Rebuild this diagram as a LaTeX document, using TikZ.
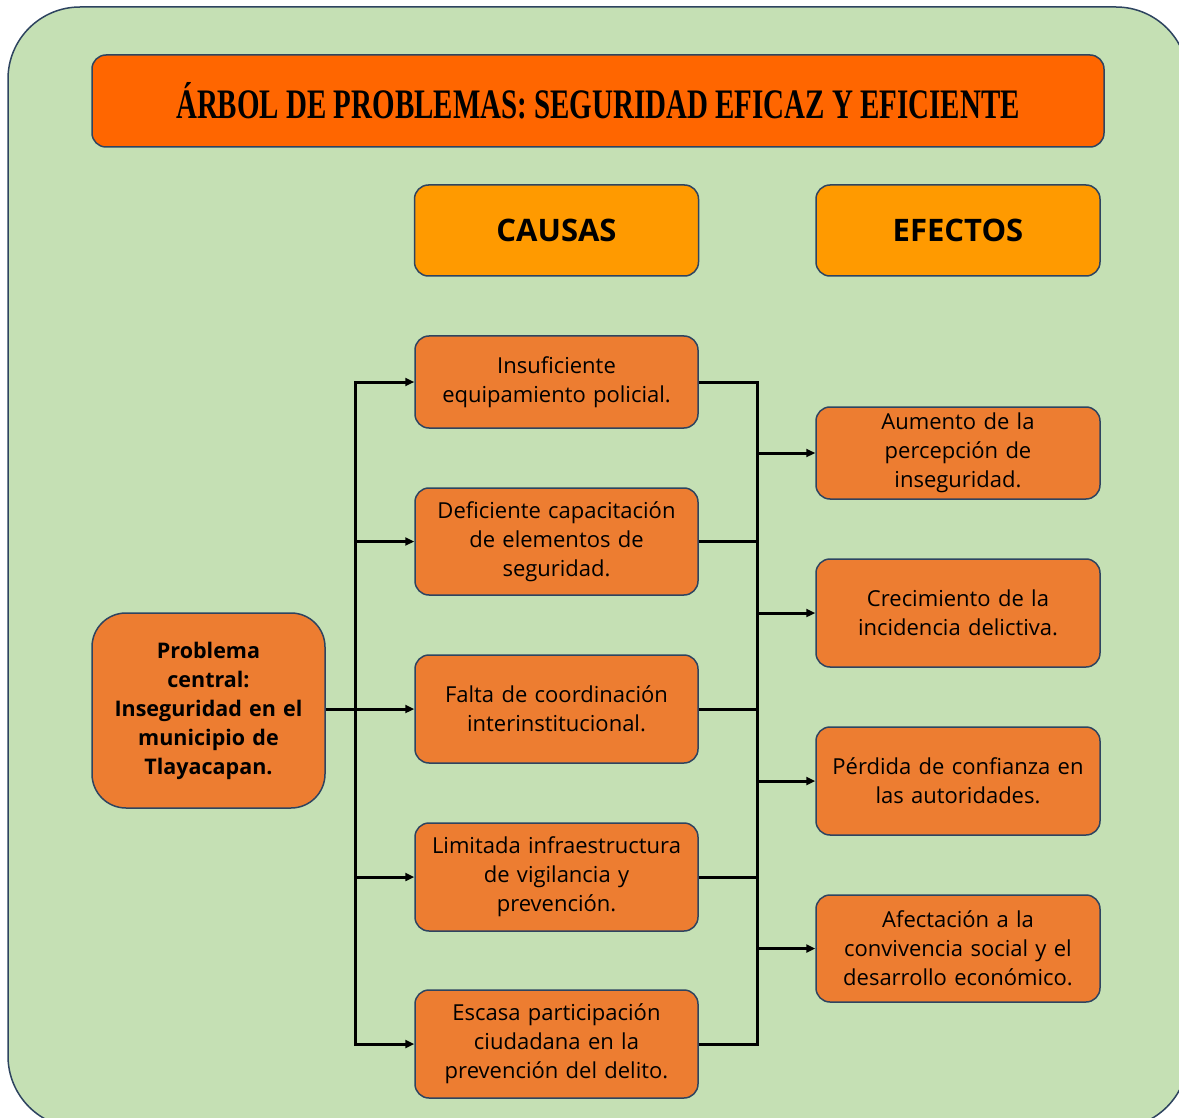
\documentclass[tikz,border=0pt]{standalone}
\usepackage{fontspec}
\setmainfont{Open Sans}
\newfontfamily\titlefont[FakeStretch=0.69]{Liberation Serif}
\usetikzlibrary{arrows.meta}

\definecolor{bggreen}{HTML}{C5E0B4}
\definecolor{boxorange}{HTML}{ED7D31}
\definecolor{titleorange}{HTML}{FF6600}
\definecolor{headorange}{HTML}{FF9A00}
\definecolor{edgeblue}{HTML}{2E4460}

\tikzset{
  basebox/.style={draw=edgeblue, line width=1.5pt, rounded corners=14pt,
    align=center, inner sep=0pt},
  causebox/.style={basebox, fill=boxorange, text width=272pt,
    minimum width=283pt, minimum height=#1,
    font=\fontsize{22}{29}\selectfont},
  headbox/.style={basebox, fill=headorange, minimum width=284pt,
    minimum height=91pt, font=\fontsize{31}{34}\selectfont\bfseries},
  link/.style={line width=3pt},
  arrow/.style={link, -{Triangle[length=9pt,width=8pt]}}
}

\begin{document}
\begin{tikzpicture}[x=1pt, y=-1pt]
  \useasboundingbox (0,0) rectangle (1179,1118);
  \fill[white] (0,0) rectangle (1179,1118);
  \clip (0,0) rectangle (1179,1118);

  % background
  \draw[draw=edgeblue, line width=1.5pt, fill=bggreen, rounded corners=72pt]
    (8,7) rectangle (1188,1128);

  % title
  \node[basebox, fill=titleorange, minimum width=1012pt, minimum height=92pt,
    font=\titlefont\fontsize{42}{44}\selectfont\bfseries] (title) at (598,101)
    {ÁRBOL DE PROBLEMAS: SEGURIDAD EFICAZ Y EFICIENTE};

  % headers
  \node[headbox] (causas) at (556.5,230.5) {CAUSAS};
  \node[headbox] (efectos) at (958,230.5) {EFECTOS};

  % central problem
  \node[causebox=195pt, text width=225pt, minimum width=233pt,
    rounded corners=34pt, font=\fontsize{21.5}{29}\selectfont\bfseries]
    (prob) at (208.5,710.5)
    {Problema\\central:\\Inseguridad en el\\municipio de\\Tlayacapan.};

  % causes
  \node[causebox=92pt]  (c1) at (556.5,382)  {Insuficiente\\equipamiento policial.};
  \node[causebox=107pt] (c2) at (556.5,541.5) {Deficiente capacitación\\de elementos de\\seguridad.};
  \node[causebox=108pt] (c3) at (556.5,709)  {Falta de coordinación\\interinstitucional.};
  \node[causebox=108pt] (c4) at (556.5,877)  {Limitada infraestructura\\de vigilancia y\\prevención.};
  \node[causebox=108pt] (c5) at (556.5,1044) {Escasa participación\\ciudadana en la\\prevención del delito.};

  % effects
  \node[causebox=92pt,  minimum width=284pt] (e1) at (958,453)   {Aumento de la\\percepción de\\inseguridad.};
  \node[causebox=108pt, minimum width=284pt] (e2) at (958,613)   {Crecimiento de la\\incidencia delictiva.};
  \node[causebox=108pt, minimum width=284pt] (e3) at (958,781)   {Pérdida de confianza en\\las autoridades.};
  \node[causebox=107pt, minimum width=284pt] (e4) at (958,948.5) {Afectación a la\\convivencia social y el\\desarrollo económico.};

  % buses
  \coordinate (lbus) at (355,0);
  \coordinate (rbus) at (757,0);

  \draw[link, line cap=rect] (c1.west -| lbus) -- (c5.west -| lbus);
  \draw[link, line cap=rect] (c1.east -| rbus) -- (c5.east -| rbus);
  \draw[link] (prob.east |- c3.west) -- (c3.west -| lbus);

  \foreach \c in {c1,c2,c3,c4,c5}{
    \draw[arrow] (\c.west -| lbus) -- (\c.west);
    \draw[link] (\c.east) -- (\c.east -| rbus);
  }
  \foreach \e in {e1,e2,e3,e4}
    \draw[arrow] (\e.west -| rbus) -- (\e.west);

\end{tikzpicture}
\end{document}
